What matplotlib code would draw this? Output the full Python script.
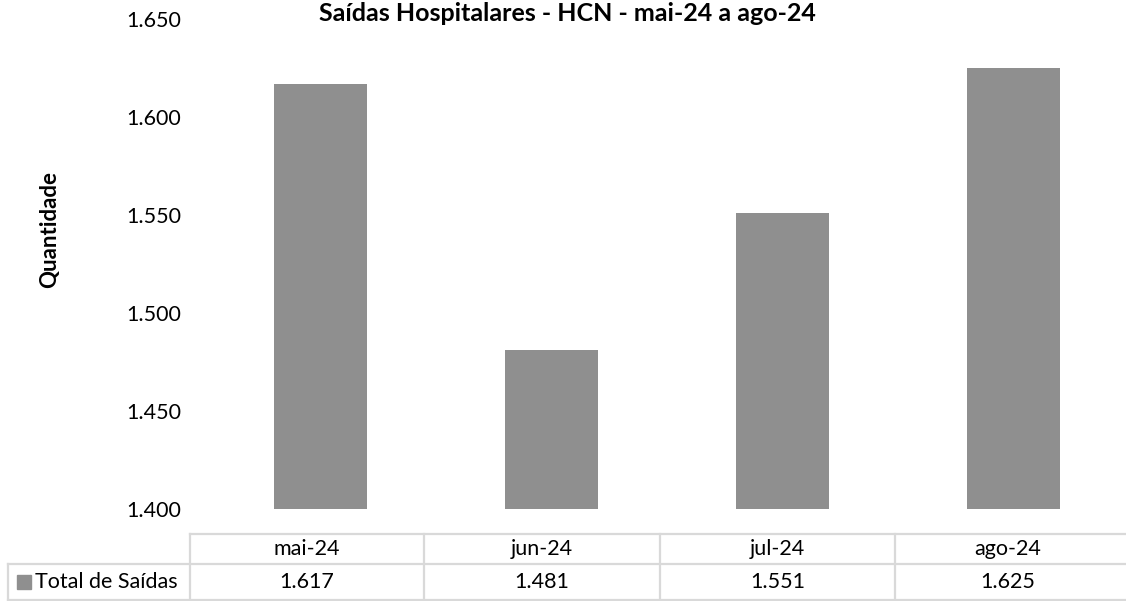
import matplotlib.pyplot as plt
from matplotlib.lines import Line2D
from matplotlib.patches import Rectangle
from matplotlib.ticker import FuncFormatter

meses = ["mai-24", "jun-24", "jul-24", "ago-24"]
total_saidas = [1617, 1481, 1551, 1625]
serie = "Total de Saídas"
titulo = "Saídas Hospitalares - HCN - mai-24 a ago-24"

plt.rcParams["font.family"] = ["Lato", "DejaVu Sans"]

W, H = 1126, 601
cinza_barra = "#8f8f8f"
cinza_linha = "#d9d9d9"
fs = 15.5


def milhar(v, _=None):
    # separador de milhar no formato brasileiro
    return f"{int(round(v)):,}".replace(",", ".")


fig = plt.figure(figsize=(W / 100, H / 100), dpi=100)

# area do grafico em pixels
x0, x1 = 205, 1129
y_top, y_bot = 19, 509
ax = fig.add_axes([x0 / W, 1 - y_bot / H, (x1 - x0) / W, (y_bot - y_top) / H])

pos = list(range(len(meses)))
ax.bar(pos, [v - 1400 for v in total_saidas], bottom=1400, width=0.40,
       color=cinza_barra)
ax.set_xlim(-0.5, len(meses) - 0.5)
ax.set_ylim(1400, 1650)
ax.set_yticks(range(1400, 1651, 50))
ax.yaxis.set_major_formatter(FuncFormatter(milhar))
ax.set_xticks([])
ax.tick_params(axis="y", length=0, pad=17, labelsize=fs, colors="#000000")
for s in ax.spines.values():
    s.set_visible(False)

fig.text(567 / W, 1 - 2 / H, titulo, ha="center", va="top",
         fontsize=18, fontweight="bold")
fig.text(50 / W, 1 - 230 / H, "Quantidade", rotation=90, ha="center",
         va="center", fontsize=16, fontweight="bold")

# tabela de dados abaixo do grafico
tab = fig.add_axes([0, 0, 1, 1])
tab.set_xlim(0, W)
tab.set_ylim(H, 0)
tab.axis("off")

cols = [190, 424, 660, 895, 1135]
y_cab, y_meio, y_fim = 534, 564, 600
lw = 1.6
tab.add_line(Line2D([cols[0], W], [y_cab, y_cab], color=cinza_linha, lw=lw))
tab.add_line(Line2D([8, W], [y_meio, y_meio], color=cinza_linha, lw=lw))
tab.add_line(Line2D([8, W], [y_fim, y_fim], color=cinza_linha, lw=lw))
tab.add_line(Line2D([8, 8], [y_meio, y_fim], color=cinza_linha, lw=lw))
for c in cols[:-1]:
    tab.add_line(Line2D([c, c], [y_cab, y_fim], color=cinza_linha, lw=lw))

for i, (m, v) in enumerate(zip(meses, total_saidas)):
    cx = (cols[i] + cols[i + 1]) / 2 if i < 3 else (cols[3] + 1120) / 2
    tab.text(cx, (y_cab + y_meio) / 2, m, ha="center", va="center", fontsize=fs)
    tab.text(cx, (y_meio + y_fim) / 2, milhar(v), ha="center", va="center",
             fontsize=fs)

tab.add_patch(Rectangle((17, 575), 14, 14, color=cinza_barra))
tab.text(35, (y_meio + y_fim) / 2, serie, ha="left", va="center", fontsize=fs)

fig.savefig("out.png", dpi=100)
